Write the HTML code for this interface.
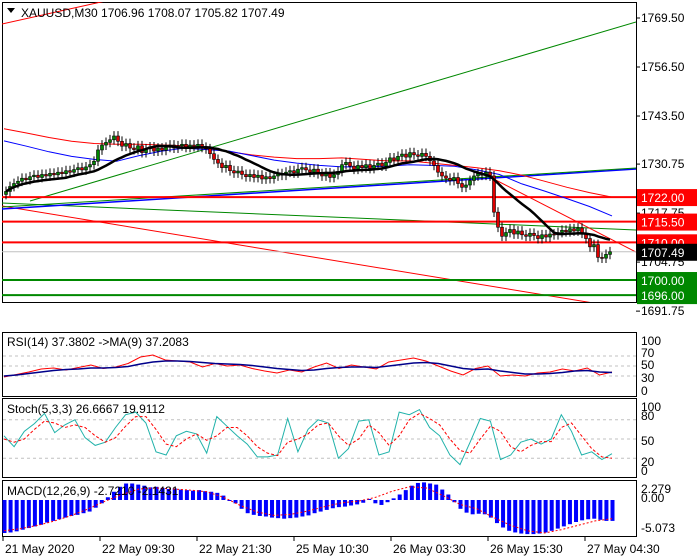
<!DOCTYPE html>
<html><head><meta charset="utf-8"><style>
html,body{margin:0;padding:0;background:#fff;width:700px;height:560px;overflow:hidden}
svg{display:block;font-family:"Liberation Sans",sans-serif}
</style></head><body>
<svg id="c" width="700" height="560" viewBox="0 0 700 560" xmlns="http://www.w3.org/2000/svg"></svg>
<script>
const closes=[1723.5,1724.8,1725.6,1726.2,1727.0,1726.6,1727.4,
1727.8,1727.2,1728.0,1727.6,1728.3,1727.9,1728.6,
1728.2,1729.0,1728.6,1729.3,1729.8,1729.2,1730.0,1730.6,1731.5,
1734.5,1735.8,1736.5,1737.2,1738.2,1736.8,1735.5,1736.2,
1735.0,1734.6,1735.6,1733.8,1734.8,1735.3,1734.2,1735.0,
1734.4,1735.2,1735.8,1735.0,1735.6,1736.0,1735.2,1735.8,
1735.4,1736.0,1735.2,1734.8,1733.5,1732.0,1731.0,1729.8,
1730.4,1729.0,1728.4,1728.9,1728.0,1727.4,1728.0,1727.2,
1727.8,1726.8,1727.4,1726.9,1727.6,1728.2,1727.8,1728.6,
1729.0,1728.4,1729.4,1729.8,1729.2,1728.6,1729.4,1728.2,
1727.6,1728.4,1727.2,1728.0,1728.8,1730.6,1731.2,1730.2,
1729.4,1730.4,1729.8,1730.6,1729.6,1730.4,1731.0,1730.2,
1731.2,1732.4,1731.8,1732.8,1733.4,1732.6,1733.8,1733.2,
1732.8,1733.6,1732.8,1731.6,1730.4,1728.6,1727.6,1727.0,
1726.4,1727.2,1725.6,1724.6,1725.2,1726.4,1727.6,1728.2,
1727.8,1728.6,1727.6,1718.0,1714.0,1711.6,1712.6,1713.4,
1712.2,1713.0,1712.0,1711.6,1712.4,1711.8,1711.0,1712.0,
1711.4,1712.2,1712.0,1712.6,1713.2,1712.8,1713.6,1713.0,
1713.8,1712.4,1711.0,1708.8,1709.4,1706.0,1705.8,1706.8,1707.49];
const blueMA=[1736.9,1735.5,1734.0,1732.8,1732.0,1731.5,1733.0,1734.2,1735.0,1734.6,1734.2,1733.0,1731.8,1731.0,1730.4,1730.0,1730.0,1730.2,1730.6,1730.4,1730.2,1729.2,1728.0,1725.5,1723.6,1721.6,1719.5,1717.0];
const redMA=[1740.1,1739.0,1737.8,1736.8,1736.2,1736.0,1736.0,1735.8,1735.6,1734.8,1734.0,1733.2,1732.6,1732.2,1732.2,1732.4,1732.0,1731.6,1731.6,1731.0,1730.4,1729.8,1729.0,1727.8,1726.2,1724.6,1723.2,1722.0];
const hLevels=[1722.00,1715.50,1710.00];
const gLevels=[1700.00,1696.00];
const priceTicks=[1769.50,1756.50,1743.50,1730.75,1717.75,1704.75,1691.75];
const rsi=[28,33,38,44,46,42,47,52,45,48,55,68,72,62,60,58,48,55,50,52,45,40,36,42,38,48,56,45,52,48,44,58,62,66,60,50,40,32,45,50,30,32,30,36,38,44,40,46,32,38];
const rsiMA=[30,32,35,38,41,43,44,46,46,47,49,54,58,60,60,59,57,55,54,53,51,48,45,43,41,42,45,47,48,48,47,50,53,56,57,55,50,45,43,44,40,37,34,34,35,37,40,41,38,37];
const stochK=[55,38,62,74,90,60,72,80,52,40,45,68,88,92,75,30,25,55,62,58,28,85,70,55,42,22,22,25,82,30,65,80,75,20,35,78,80,25,30,92,88,96,68,55,25,10,45,82,78,18,25,45,50,42,50,88,62,25,30,18,27];
const stochD=[50,45,50,65,78,75,68,72,68,55,45,52,70,85,85,65,42,38,50,58,48,55,68,68,55,38,28,24,45,50,58,72,75,55,40,50,72,60,40,55,80,90,82,72,50,32,28,50,70,62,38,30,40,46,46,68,75,55,35,22,20];
const macdHist=[-6.0,-5.9,-5.7,-5.4,-5.1,-4.8,-4.5,-4.1,-3.8,-3.5,-3.2,-2.9,-2.7,-2.4,-2.1,
-1.4,-0.6,0.5,1.5,2.4,3.0,
3.0,2.8,2.6,2.3,2.4,2.2,2.0,2.1,1.9,1.8,1.7,1.8,1.6,1.5,1.3,
0.8,0.0,-0.6,-1.6,-2.4,
-2.7,-2.9,-3.0,-3.2,-3.3,-3.4,-3.3,-3.2,-3.0,-2.8,
-2.4,-2.1,-1.8,-1.5,-1.3,-1.2,-1.0,-0.8,-0.5,0.2,
-0.6,-0.9,-0.4,0.3,
1.0,1.8,2.6,3.1,3.2,3.0,2.8,
1.9,1.0,-0.4,-1.6,-2.3,
-2.6,-2.5,-2.6,-3.2,-4.2,-5.0,-5.6,-5.9,-6.1,-6.2,
-6.2,-6.1,-5.9,-5.6,-5.2,-4.8,-4.4,-4.0,-3.7,
-3.5,-3.4,-3.6,-3.8,-3.8];
const macdSig=[-5.6,-5.2,-4.6,-3.8,-2.8,-1.6,-0.2,1.0,2.0,2.2,2.0,1.8,1.5,0.5,-1.0,-2.2,-2.8,-2.6,-2.0,-1.2,-0.5,-0.2,0.5,1.6,2.4,2.2,0.8,-0.8,-1.6,-3.2,-4.6,-5.6,-6.0,-5.4,-4.6,-3.8,-3.4];
const timeLabels=["21 May 2020","22 May 09:30","22 May 21:30","25 May 10:30","26 May 03:30","26 May 15:30","27 May 04:30"];

const S=document.getElementById('c');const NS='http://www.w3.org/2000/svg';
function el(t,a,p){const e=document.createElementNS(NS,t);for(const k in a)e.setAttribute(k,a[k]);(p||S).appendChild(e);return e;}
const R=636;
const py=p=>18+(1769.5-p)*3.77;
const bx=i=>6+i*4;
const lx=(i,n)=>4+i*(608/(n-1));
function pl(arr,xf,yf,attrs,name){const pts=arr.map((v,i)=>xf(i,arr.length).toFixed(1)+','+yf(v).toFixed(1)).join(' ');const e=el('polyline',Object.assign({points:pts,fill:'none'},attrs));return e;}
function txt(x,y,s,attrs,name){const e=el('text',Object.assign({x:x,y:y,'font-size':12,fill:'#000'},attrs||{}));e.textContent=s;return e;}
function line(x1,y1,x2,y2,attrs,name){const e=el('line',Object.assign({x1,y1,x2,y2},attrs));return e;}

const panels=[[2,2,302],[2,332,396],[2,398,477],[2,480,536]];
const clipIds=['cm','cr','cs','cd'];
const defs=el('defs',{});
panels.forEach((p,k)=>{const cp=el('clipPath',{id:clipIds[k]},defs);el('rect',{x:p[0],y:p[1],width:R-p[0],height:p[2]-p[1]},cp);
const r=el('rect',{x:p[0]+0.5,y:p[1]+0.5,width:R-p[0],height:p[2]-p[1],fill:'none',stroke:'#000'});});
const gm=el('g',{'clip-path':'url(#cm)'});
function lineG(g,x1,y1,x2,y2,attrs,name){const e=el('line',Object.assign({x1,y1,x2,y2},attrs),g);}
lineG(gm,2,24,110,0,{stroke:'#f00','stroke-width':1},'channel-top-red');
lineG(gm,30,201,636,22,{stroke:'#080','stroke-width':1},'trendline-green-up');
lineG(gm,2,203,636,230,{stroke:'#080','stroke-width':1},'trendline-green-flat');
lineG(gm,2,206,636,310,{stroke:'#f00','stroke-width':1},'channel-bottom-red');
lineG(gm,480,172,636,252,{stroke:'#f00','stroke-width':1},'trendline-red-down');
lineG(gm,2,209,636,169,{stroke:'#00f','stroke-width':1.5},'trendline-blue');
lineG(gm,2,207,636,168,{stroke:'#080','stroke-width':1},'trendline-green-2');
lineG(gm,2,py(1707.49),R,py(1707.49),{stroke:'#c0c0c0'},'current-price-line');
hLevels.forEach(v=>lineG(gm,2,py(v),R,py(v),{stroke:'#f00','stroke-width':2},'resistance-'+v));
gLevels.forEach(v=>lineG(gm,2,py(v),R,py(v),{stroke:'#080','stroke-width':2},'support-'+v));
gm.appendChild(pl(redMA,lx,py,{stroke:'#f00','stroke-width':1},'ma-red'));
gm.appendChild(pl(blueMA,lx,py,{stroke:'#00f','stroke-width':1},'ma-blue'));
closes.forEach((c,i)=>{const o=i?closes[i-1]:c-0.8;const hi=Math.max(o,c)+1.3,lo=Math.min(o,c)-1.3;const x=bx(i);
const w=el('line',{x1:x,y1:py(hi),x2:x,y2:py(lo),stroke:'#000'},gm);
const top=py(Math.max(o,c)),h=Math.max(1,Math.abs(py(o)-py(c)));
const b=el('rect',{x:x-1.5,y:top,width:3,height:h,fill:c>=o?'#080':'#d00',stroke:'#000','stroke-width':0.6},gm);});
const sma=closes.map((c,i)=>{const s=closes.slice(Math.max(0,i-15),i+1);return s.reduce((a,b)=>a+b,0)/s.length;});
gm.appendChild(pl(sma,bx,py,{stroke:'#000','stroke-width':2.5},'ma-black'));
priceTicks.forEach(v=>{line(R,py(v),R+4,py(v),{stroke:'#000'},'price-tick');txt(641,py(v)+4,v.toFixed(2),{},'price-label');});
function box(v,bg,name){const y=py(v);const r=el('rect',{x:R+1,y:y-8,width:60,height:17,fill:bg});txt(641,y+5,v.toFixed(2),{fill:'#fff'},name);}
hLevels.forEach(v=>box(v,'#f00','level-label'));box(1707.49,'#000','current-price-label');gLevels.forEach(v=>box(v,'#080','level-label'));
el('path',{d:'M7,8 L15,8 L11,13 Z',fill:'#000'});
txt(21,17,'XAUUSD,M30  1706.96 1708.07 1705.82 1707.49',{},'chart-title');
const ry=v=>391-v*0.5;
[70,50,30].forEach(v=>line(3,ry(v),R,ry(v),{stroke:'#c0c0c0','stroke-dasharray':'3,3'},'rsi-level'));
const gr=el('g',{'clip-path':'url(#cr)'});
gr.appendChild(pl(rsi,lx,ry,{stroke:'#f00'},'rsi-line'));gr.appendChild(pl(rsiMA,lx,ry,{stroke:'#00008b','stroke-width':1.5},'rsi-ma-line'));
txt(7,346,'RSI(14) 37.3802  ->MA(9) 37.2083',{},'rsi-title');
[[100,345],[70,357],[50,369],[30,382],[0,395]].forEach(a=>txt(641,a[1],String(a[0]),{},'rsi-axis-label'));
const sy=v=>471-v*0.64;
[80,50,20].forEach(v=>line(3,sy(v),R,sy(v),{stroke:'#c0c0c0','stroke-dasharray':'3,3'},'stoch-level'));
const gs=el('g',{'clip-path':'url(#cs)'});
gs.appendChild(pl(stochK,lx,sy,{stroke:'#20b2aa'},'stoch-k-line'));gs.appendChild(pl(stochD,lx,sy,{stroke:'#f00','stroke-dasharray':'3,2'},'stoch-d-line'));
txt(7,413,'Stoch(5,3,3) 26.6667 19.9112',{},'stoch-title');
[[100,411],[80,420],[50,445],[20,466],[0,475]].forEach(a=>txt(641,a[1],String(a[0]),{},'stoch-axis-label'));
const my=v=>500-v*5.5;
const gd=el('g',{'clip-path':'url(#cd)'});
macdHist.forEach((v,i)=>{const x=lx(i,macdHist.length);const r=el('rect',{x:x-1.5,y:Math.min(my(v),my(0)),width:4,height:Math.max(1,Math.abs(my(v)-my(0))),fill:'#00f'},gd);});
gd.appendChild(pl(macdSig,lx,my,{stroke:'#f00','stroke-dasharray':'2,2'},'macd-signal-line'));
txt(7,495,'MACD(12,26,9) -2.7210 -2.1431',{},'macd-title');
[[2.279,'2.279',493],[0,'0.00',502],[-5.073,'-5.073',532]].forEach(a=>txt(641,a[2],a[1],{},'macd-axis-label'));
timeLabels.forEach((s,i)=>{const x=3+i*97;line(x,536,x,541,{stroke:'#000'},'time-tick');txt(x+2,553,s,{},'time-label');});
</script>
</body></html>
